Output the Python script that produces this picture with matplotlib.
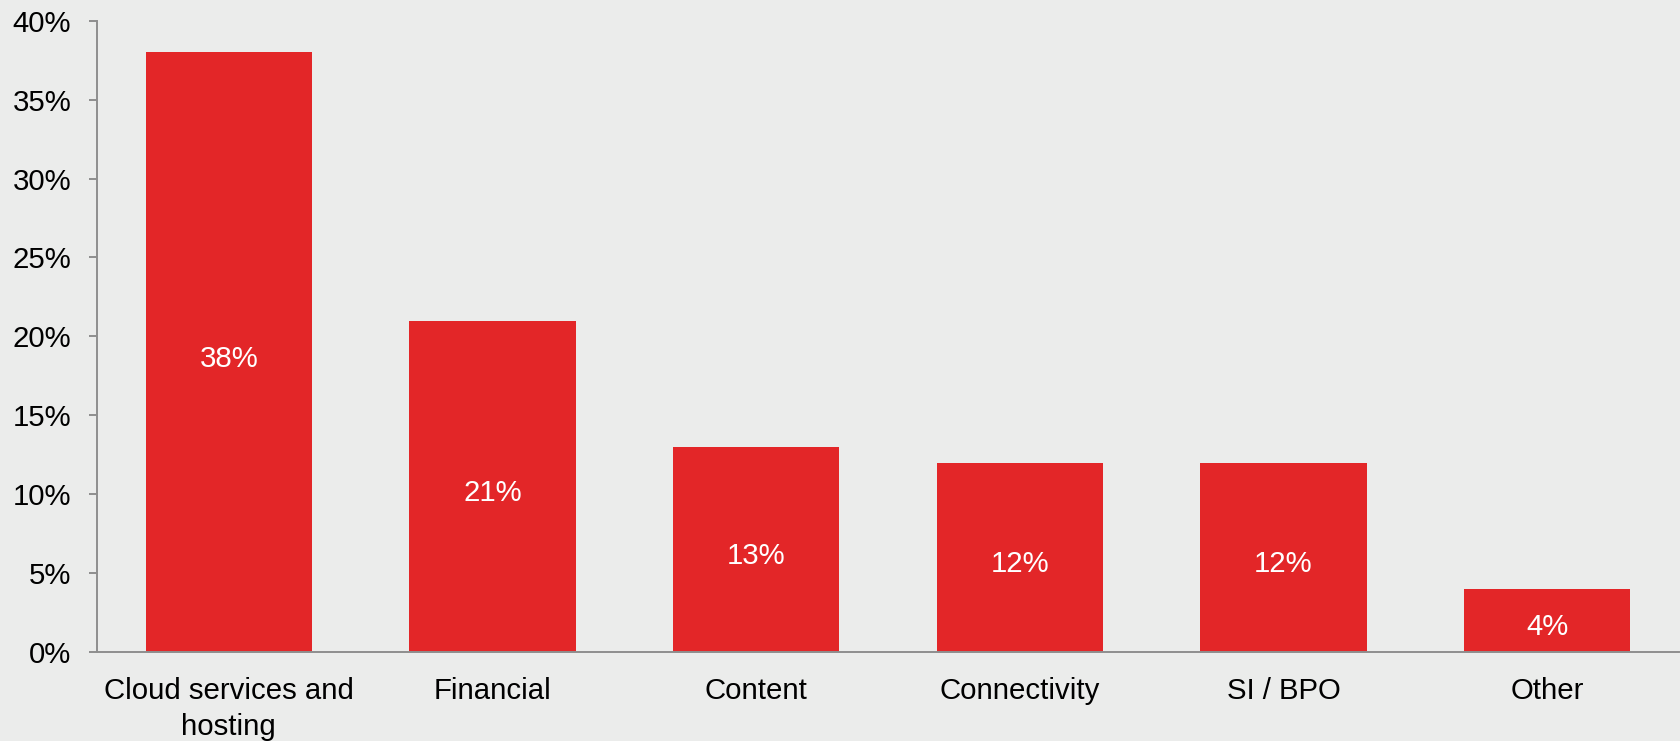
import matplotlib
matplotlib.use("Agg")
import matplotlib.pyplot as plt
from matplotlib.ticker import FuncFormatter, MultipleLocator

plt.rcParams['font.family'] = ['Liberation Sans', 'DejaVu Sans']

categories = ["Cloud services and\nhosting", "Financial", "Content",
              "Connectivity", "SI / BPO", "Other"]
shares = [38, 21, 13, 12, 12, 4]

BG = "#EBECEB"
RED = "#E32628"
GREY = "#8E8E8E"
FS = 21.2

fig = plt.figure(figsize=(16.81, 7.41), dpi=100, facecolor=BG)
ax = fig.add_axes([0.0577, 0.1201, 0.9411, 0.852])
ax.set_facecolor(BG)

x = list(range(len(categories)))
bars = ax.bar(x, shares, width=0.63, color=RED, zorder=2)

for rect, v in zip(bars, shares):
    ax.annotate(f"{v}%", (rect.get_x() + rect.get_width() / 2, v / 2),
                xytext=(0, -4.6), textcoords="offset points",
                ha="center", va="center", color="white", fontsize=FS)

ax.set_xlim(-0.5, len(categories) - 0.5)
ax.set_ylim(0, 40)
ax.yaxis.set_major_locator(MultipleLocator(5))
ax.yaxis.set_major_formatter(FuncFormatter(lambda v, _: f"{v:.0f}%"))
ax.set_xticks(x)
ax.set_xticklabels(categories, fontsize=FS, linespacing=1.38)

for side in ("top", "right"):
    ax.spines[side].set_visible(False)
for side in ("left", "bottom"):
    ax.spines[side].set_color(GREY)
    ax.spines[side].set_linewidth(1.4)

ax.tick_params(axis="y", length=5.5, width=1.4, color=GREY, pad=13,
               labelsize=FS, labelcolor="black")
ax.tick_params(axis="x", length=0, pad=18, labelcolor="black")

fig.savefig("out.png", dpi=100, facecolor=BG)
